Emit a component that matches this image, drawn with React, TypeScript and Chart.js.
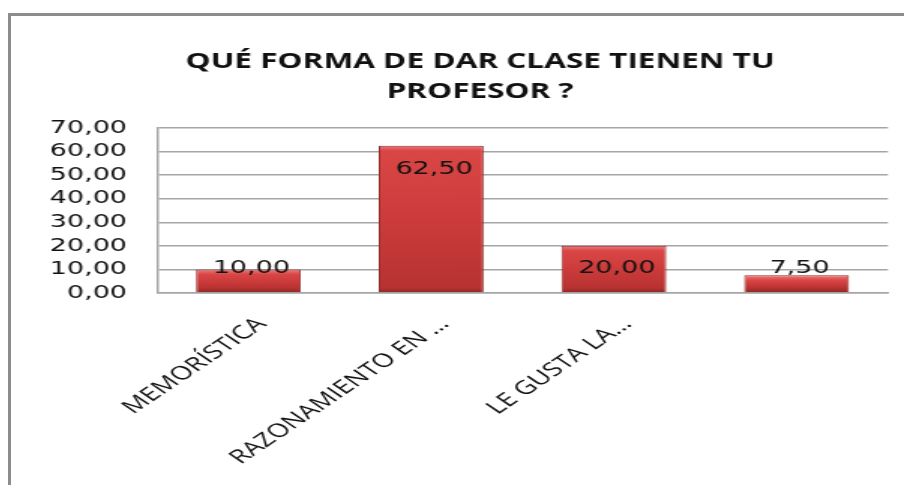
import React, { useEffect, useRef } from "react";
import { Chart, registerables } from "chart.js";

Chart.register(...registerables);

const titleLines = ["QUÉ FORMA DE DAR CLASE TIENEN TU", "PROFESOR ?"];
const categories = ["MEMORÍSTICA", "RAZONAMIENTO EN …", "LE GUSTA LA…", ""];
const values = [10, 62.5, 20, 7.5];
const yMin = 0;
const yMax = 70;
const yStep = 10;

const fmt = (v: number) => v.toFixed(2).replace(".", ",");

const INTERNAL_W = 595;
const H = 469;
const CSS_W = 893;

const valueLabels = {
  id: "valueLabels",
  afterDatasetsDraw(chart: any) {
    const ctx = chart.ctx;
    const meta = chart.getDatasetMeta(0);
    ctx.save();
    ctx.font = "18px 'DejaVu Sans'";
    ctx.fillStyle = "#111";
    ctx.textAlign = "center";
    ctx.textBaseline = "middle";
    meta.data.forEach((bar: any, i: number) => {
      const top = Math.min(bar.y, bar.base);
      const base = Math.max(bar.y, bar.base);
      const yc = Math.min(top + 24, base - 24);
      ctx.fillText(fmt(values[i]), bar.x + 2, yc);
    });
    ctx.restore();
  },
};

const titleText = {
  id: "titleText",
  afterDraw(chart: any) {
    const ctx = chart.ctx;
    ctx.save();
    ctx.font = "bold 21px 'Open Sans'";
    ctx.fillStyle = "#111";
    ctx.textAlign = "center";
    ctx.textBaseline = "middle";
    titleLines.forEach((line, i) => {
      ctx.fillText(line, 312.5, 46 + i * 30);
    });
    ctx.restore();
  },
};

export default function App() {
  const ref = useRef<HTMLCanvasElement | null>(null);

  useEffect(() => {
    if (!ref.current) return;
    const chart = new Chart(ref.current, {
      type: "bar",
      data: {
        labels: categories,
        datasets: [
          {
            data: values,
            backgroundColor: (c: any) => {
              const ch = c.chart;
              if (!ch.chartArea || !ch.scales || !ch.scales.y) return "#c83c3c";
              const ys = ch.scales.y;
              const top = ys.getPixelForValue(values[c.dataIndex]);
              const base = ys.getPixelForValue(0);
              if (!isFinite(top) || !isFinite(base) || base - top < 1) return "#c83c3c";
              const g = ch.ctx.createLinearGradient(0, top, 0, base);
              const h = base - top;
              const e = Math.min(0.3, 5 / h);
              g.addColorStop(0, "#ee7c7c");
              g.addColorStop(e, "#da4646");
              g.addColorStop(0.5, "#cc3b3b");
              g.addColorStop(Math.max(0.5, 1 - e), "#b83232");
              g.addColorStop(1, "#8a2626");
              return g;
            },
            borderColor: "#8e2c2c",
            borderWidth: 1,
            barPercentage: 0.574,
            categoryPercentage: 1,
          },
        ],
      },
      options: {
        responsive: false,
        animation: false,
        devicePixelRatio: 1,
        layout: { padding: { left: 15, right: 10.7, top: 112, bottom: 0 } },
        plugins: {
          legend: { display: false },
          tooltip: { enabled: false },
          title: { display: false },
        },
        scales: {
          x: {
            grid: { display: false },
            border: { display: true, color: "#a6a6a6", width: 1.5 },
            ticks: {
              color: "#111",
              font: { family: "'Open Sans'", size: 19 },
              minRotation: 45,
              maxRotation: 45,
              autoSkip: false,
              padding: 12,
              labelOffset: 9,
            },
            afterFit: (s: any) => {
              s.height = H - 277;
            },
          },
          y: {
            min: yMin,
            max: yMax,
            grid: { color: "#a6a6a6", lineWidth: 1.5, drawTicks: false },
            border: { display: true, color: "#a6a6a6", width: 1.5 },
            ticks: {
              stepSize: yStep,
              autoSkip: false,
              color: "#111",
              font: { family: "'DejaVu Sans'", size: 18 },
              padding: 20,
              callback: (v: any) => fmt(Number(v)),
            },
            afterFit: (s: any) => {
              s.width = 97.3 - 15;
            },
          },
        },
      },
      plugins: [valueLabels, titleText],
    });
    return () => chart.destroy();
  }, []);

  return (
    <div
      style={{
        marginTop: 5,
        borderTop: "3px solid #8c8c8c",
        borderLeft: "3px solid #8c8c8c",
        width: CSS_W,
        height: H,
        background: "#fff",
      }}
    >
      <canvas
        ref={ref}
        width={INTERNAL_W}
        height={H}
        style={{ width: CSS_W + "px", height: H + "px", display: "block" }}
      />
    </div>
  );
}
